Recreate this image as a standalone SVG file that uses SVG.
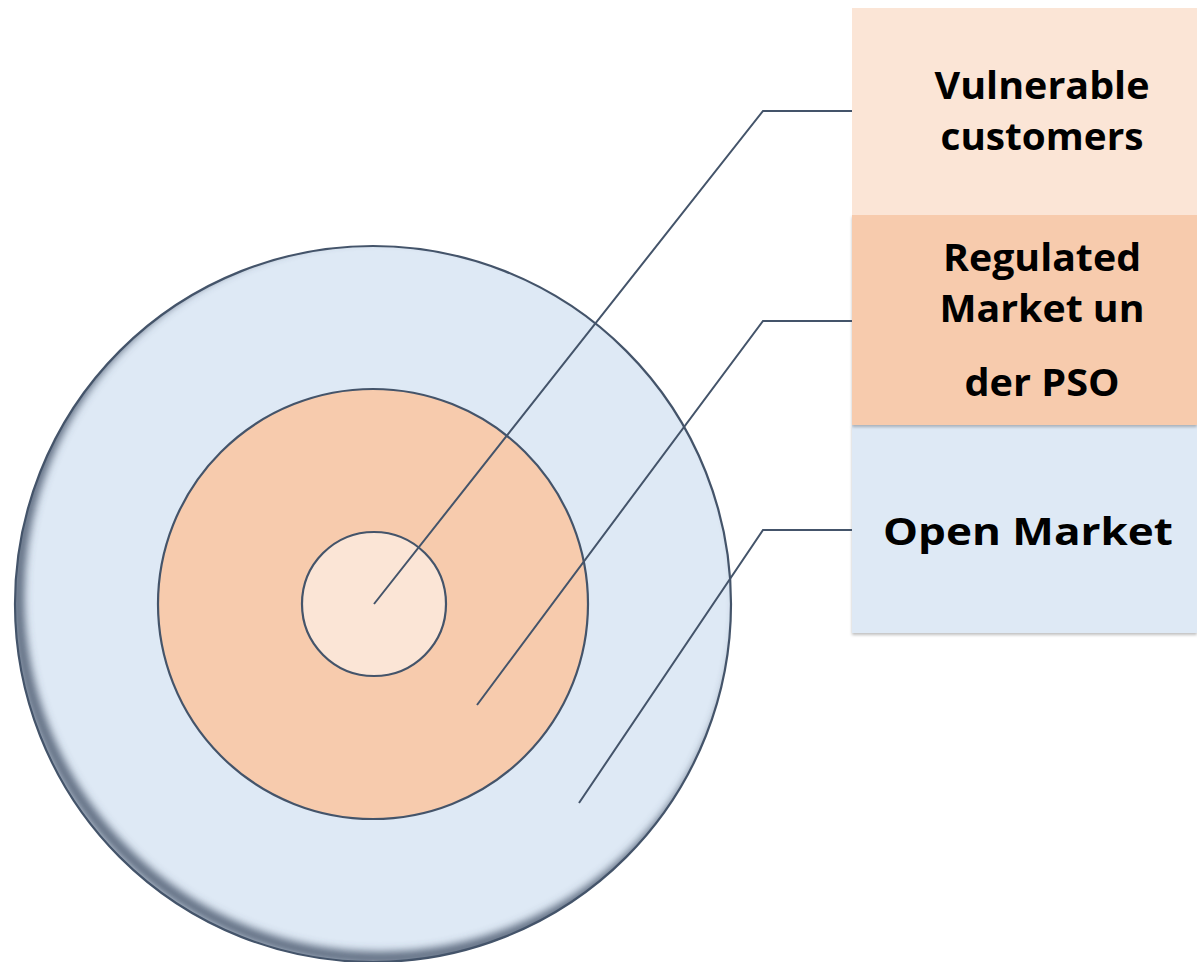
<svg xmlns="http://www.w3.org/2000/svg" width="1197" height="962" viewBox="0 0 1197 962">
<style>
.ring{stroke:#44546A;stroke-width:2.2}
.conn{fill:none;stroke:#44546A;stroke-width:2}
.lbl{font-family:"Open Sans",Lato,"Liberation Sans",sans-serif;font-weight:bold;font-size:37px;fill:#000;text-anchor:middle}
</style>
<defs>
<clipPath id="outerClip"><circle cx="373" cy="604" r="358"/></clipPath>
<filter id="blur" x="-20%" y="-20%" width="140%" height="140%"><feGaussianBlur stdDeviation="4"/></filter>
<filter id="boxShadow" x="-5%" y="-5%" width="110%" height="115%"><feDropShadow dx="0" dy="2" stdDeviation="1.5" flood-color="#000" flood-opacity="0.25"/></filter>
</defs>
<rect width="1197" height="962" fill="#fff"/>
<g id="outer">
<circle cx="373" cy="604" r="358" fill="#DEE9F5"/>
<g clip-path="url(#outerClip)">
<circle cx="380" cy="596" r="362" fill="none" stroke="#44546A" stroke-width="12" stroke-opacity="0.85" filter="url(#blur)"/>
</g>
<circle cx="373" cy="604" r="358" fill="none" class="ring"/>
</g>
<g id="middle"><circle cx="373" cy="604" r="215" fill="#F7CBAD" class="ring"/></g>
<g id="inner"><circle cx="374" cy="604" r="72" fill="#FBE5D6" class="ring"/></g>
<g id="box-open" filter="url(#boxShadow)">
<rect x="852" y="425" width="345" height="208" fill="#DEE9F5"/>
</g>
<g id="box-regulated" filter="url(#boxShadow)">
<rect x="852" y="215" width="345" height="210" fill="#F7CBAD"/>
</g>
<g id="box-vulnerable">
<rect x="852" y="8" width="345" height="207" fill="#FBE5D6"/>
</g>
<g id="labels">
<text class="lbl" x="1042" y="99" textLength="215" lengthAdjust="spacingAndGlyphs">Vulnerable</text>
<text class="lbl" x="1042" y="150" textLength="203" lengthAdjust="spacingAndGlyphs">customers</text>
<text class="lbl" x="1042" y="271" textLength="198" lengthAdjust="spacingAndGlyphs">Regulated</text>
<text class="lbl" x="1042" y="322" textLength="205" lengthAdjust="spacingAndGlyphs">Market un</text>
<text class="lbl" x="1042" y="396" textLength="155" lengthAdjust="spacingAndGlyphs">der PSO</text>
<text class="lbl" x="1028" y="545" textLength="290" lengthAdjust="spacingAndGlyphs">Open Market</text>
</g>
<g id="connectors">
<polyline class="conn" points="374,604 763,111 852,111"/>
<polyline class="conn" points="477,705 763,321 852,321"/>
<polyline class="conn" points="579,803 763,530 852,530"/>
</g>
</svg>
